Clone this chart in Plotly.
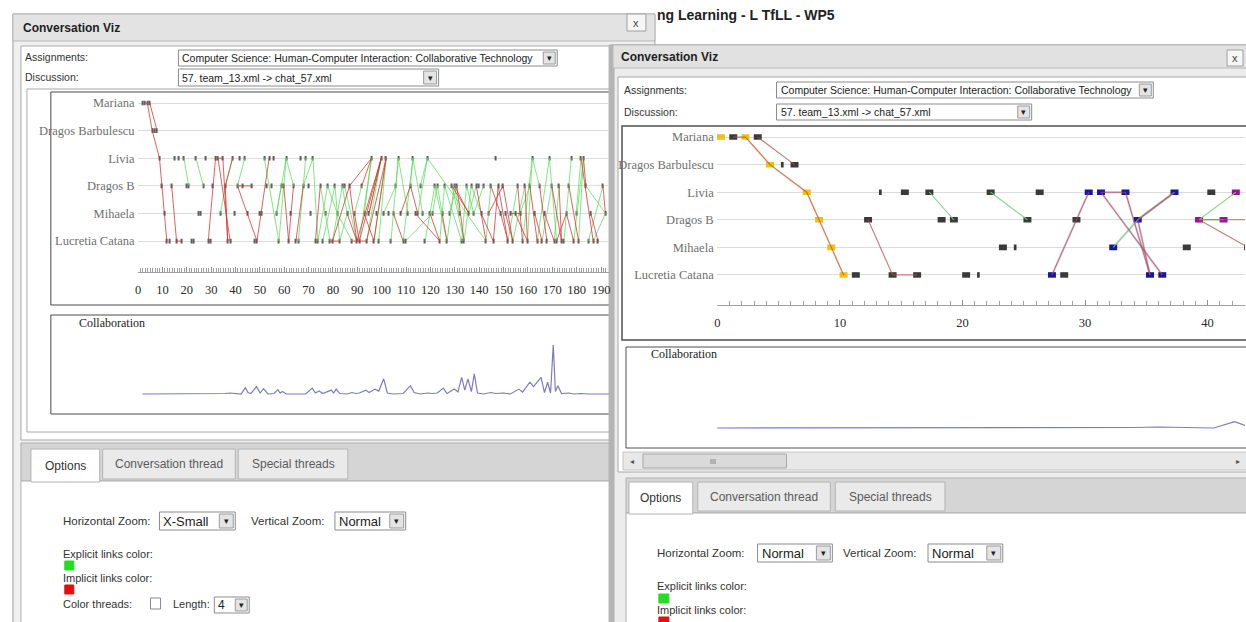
"""
Conversation Viz - the same chat (chat_57.xml) shown twice:
left window at X-Small horizontal zoom, right window at Normal zoom.
"""

import plotly.graph_objects as go

W, H = 1246, 622
SANS = "Liberation Sans, Arial, sans-serif"
SERIF = "Liberation Serif, Times New Roman, serif"

# participants, bottom row first
participants = ["Lucretia Catana", "Mihaela", "Dragos B", "Livia",
                "Dragos Barbulescu", "Mariana"]

# message indices written by each participant
msgs_lucretia = [10, 11, 14, 16, 20, 21, 27, 28, 35, 36, 46, 47, 56, 60, 63, 64,
                 71, 72, 74, 77, 78, 81, 86, 88, 89, 92, 95, 97, 102, 107, 108,
                 116, 122, 125, 131, 132, 141, 144, 150, 152, 156, 158, 162, 164,
                 166, 169, 170, 172, 173, 177, 179, 183, 185, 187]
msgs_mihaela = [9, 23, 24, 32, 38, 43, 48, 49, 55, 61, 69, 75, 80, 84, 87, 91,
                93, 96, 99, 101, 103, 106, 109, 112, 113, 115, 118, 119, 123, 126,
                130, 134, 136, 139, 142, 147, 149, 151, 153, 155, 161, 165, 174,
                178, 184, 190]
msgs_dragos_b = [8, 12, 18, 19, 25, 29, 34, 39, 41, 45, 51, 53, 57, 58, 62, 66,
                 68, 73, 76, 79, 82, 83, 85, 90, 104, 110, 114, 120, 121, 124, 127,
                 128, 129, 133, 135, 137, 138, 140, 143, 146, 148, 154, 157, 159,
                 163, 168, 171, 175, 182, 189, 192]
msgs_livia = [7, 13, 15, 17, 22, 26, 30, 31, 33, 37, 40, 42, 50, 52, 54, 59, 65,
              67, 70, 94, 98, 100, 105, 111, 117, 145, 160, 167, 176, 180, 181]
msgs_barbulescu = [4, 5, 6]
msgs_mariana = [0, 1, 2, 3]

# very short messages (drawn as thin ticks at normal zoom)
short_msgs = [5, 13, 21, 24]

# links between messages (message index pairs)
explicit_links = [(17, 19), (22, 25), (32, 34), (34, 37), (39, 41), (39, 42),
                  (50, 56), (59, 56), (59, 62), (55, 57), (55, 59), (70, 72),
                  (72, 76), (73, 77), (76, 80), (79, 81), (82, 84), (83, 88),
                  (80, 86), (66, 70), (64, 67), (74, 79), (78, 82), (81, 84),
                  (87, 90), (94, 89), (94, 91), (98, 92), (98, 93), (100, 95),
                  (97, 100), (99, 104), (105, 102), (105, 104), (105, 109),
                  (107, 111), (111, 110), (111, 115), (113, 117), (117, 114),
                  (117, 141), (108, 119), (116, 120), (119, 121), (120, 125),
                  (121, 123), (122, 124), (124, 131), (125, 128), (126, 129),
                  (127, 132), (128, 130), (131, 133), (132, 135), (133, 136),
                  (134, 137), (135, 139), (136, 140), (141, 143), (150, 154),
                  (152, 157), (155, 159), (160, 156), (160, 158), (160, 163),
                  (162, 167), (164, 168), (167, 170), (169, 171), (177, 181),
                  (178, 180), (179, 181), (176, 173), (182, 190), (183, 189),
                  (185, 190)]
implicit_links = [(1, 2), (2, 4), (4, 7), (7, 8), (8, 9), (9, 10), (3, 6),
                  (12, 14), (14, 16), (27, 30), (31, 33), (31, 36), (33, 35),
                  (34, 35), (34, 37), (39, 41), (41, 45), (39, 47), (52, 47),
                  (58, 60), (60, 62), (63, 66), (71, 73), (77, 81), (78, 85),
                  (84, 88), (85, 88), (85, 94), (86, 92), (87, 89), (88, 98),
                  (89, 98), (90, 94), (91, 95), (92, 100), (93, 98), (95, 100),
                  (103, 107), (106, 110), (110, 113), (112, 122), (118, 122),
                  (123, 125), (127, 134), (128, 134), (129, 132), (137, 141),
                  (139, 144), (142, 148), (143, 147), (144, 146), (146, 150),
                  (147, 150), (148, 152), (149, 152), (151, 155), (153, 158),
                  (154, 156), (157, 158), (159, 162), (161, 164), (163, 166),
                  (165, 169), (168, 172), (170, 174), (171, 172), (174, 177),
                  (175, 179), (180, 185), (181, 182), (184, 187), (189, 190)]

# highlighted threads in the right window
thread_yellow = [0, 2, 4, 7, 8, 9, 10]
thread_blue = [27, 30, 31, 32, 33, 34, 35, 36, 37]
thread_purple = [39, 41, 42]

# collaboration curve: (message index, value)
collab_points = [(0, 0), (3, 0), (4, 0.15), (5, 0.05), (8, 0.1), (12, 0), (29, 0),
                 (30.5, 0.15), (32, 0), (34, 0.1), (36, 0.2), (38, 0.05), (40.5, 0),
                 (42.2, 1.3), (43.3, 0.3), (44.5, 0.1), (46.8, 1.5), (48.3, 0.2),
                 (49.7, 1.1), (51.5, 0), (54, 0.1), (55.6, 0.9), (56.5, 0.2),
                 (57.5, 0.5), (59, 0), (67, 0), (69.7, 1.2), (71, 0.2), (72.5, 0.6),
                 (74, 0.1), (75.5, 0.4), (77.5, 0.8), (78.5, 0.2), (79.5, 1.0),
                 (81, 0.1), (84, 0), (86, 0.3), (87.5, 0.1), (89, 0.2), (91.7, 0.8),
                 (93, 0.3), (95.5, 1.0), (97, 0.6), (99, 3.1), (100.5, 0.2), (103, 0),
                 (107, 0.1), (110, 1.7), (111.5, 0.3), (114, 0), (117, 0.2),
                 (119, 0.1), (121, 0.2), (123.5, 1.2), (125, 0.1), (128, 1.0),
                 (129.5, 0.4), (131, 3.4), (132.3, 0.8), (133.6, 3.1), (135, 0.5),
                 (136.2, 4.1), (137.5, 0.2), (140, 0), (143, 0.3), (145, 0.1),
                 (148, 0.2), (151, 0), (154.5, 1.0), (156, 0.4), (159, 2.4),
                 (160.5, 1.5), (163.6, 3.4), (165, 0.3), (166.3, 2.4), (167.5, 0.2),
                 (168.6, 10), (169.5, 0.5), (170.5, 1.7), (172, 0.1), (175, 0.2),
                 (177, 0), (180, 0.1), (183, 0), (193, 0)]

assignment = "Computer Science: Human-Computer Interaction: Collaborative Technology"
discussion = "57. team_13.xml -> chat_57.xml"

row_of = {}
for r, msgs in enumerate([msgs_lucretia, msgs_mihaela, msgs_dragos_b, msgs_livia,
                          msgs_barbulescu, msgs_mariana]):
    for m in msgs:
        row_of[m] = r
times = sorted(row_of)


def link_trace(links, color, width, xa, ya, shift=0.0):
    xs, ys = [], []
    for a, b in links:
        xs += [a + shift, b + shift, None]
        ys += [row_of[a], row_of[b], None]
    return go.Scatter(x=xs, y=ys, mode="lines", line=dict(color=color, width=width),
                      xaxis=xa, yaxis=ya, hoverinfo="skip", showlegend=False)


def mark_trace(lengths, height, colors, xa, ya, shift=0.0):
    return go.Bar(orientation="h", y=[row_of[t] for t in times], x=lengths,
                  base=[t + shift - l / 2 for t, l in zip(times, lengths)],
                  width=height, marker=dict(color=colors, line=dict(width=0)),
                  xaxis=xa, yaxis=ya, hoverinfo="skip", showlegend=False)


def thread_color(t):
    if t in thread_yellow:
        return "#f2c010"
    if t in thread_blue:
        return "#16169e"
    if t in thread_purple:
        return "#9a109a"
    return "#3a3a3a"


fig = go.Figure()

# left window: X-Small zoom
LS = 1.8
fig.add_trace(link_trace(explicit_links, "rgba(80,220,80,0.7)", 1.0, "x", "y", LS))
fig.add_trace(link_trace(implicit_links, "rgba(215,45,45,0.75)", 1.0, "x", "y", LS))
fig.add_trace(mark_trace([0.45] * len(times), 0.17, "#5e5e5e", "x", "y", LS))

# right window: Normal zoom, thread colour faintly underneath the links
RS = 0.3
for members, col in [(thread_yellow, "rgba(242,192,16,0.22)"),
                     (thread_blue, "rgba(22,22,158,0.15)")]:
    tl = [(a, b) for a, b in explicit_links + implicit_links
          if a in members and b in members]
    fig.add_trace(link_trace(tl, col, 2.4, "x2", "y2", RS))
fig.add_trace(link_trace(explicit_links, "rgba(120,210,120,0.85)", 1.1, "x2", "y2", RS))
fig.add_trace(link_trace(implicit_links, "rgba(185,75,75,0.75)", 1.1, "x2", "y2", RS))
fig.add_trace(mark_trace([0.22 if t in short_msgs else 0.65 for t in times], 0.2,
                         [thread_color(t) for t in times], "x2", "y2", RS))

# collaboration curves
cx = [p[0] for p in collab_points]
cy = [p[1] for p in collab_points]
for xa, ya in [("x3", "y3"), ("x4", "y4")]:
    fig.add_trace(go.Scatter(x=cx, y=cy, mode="lines", xaxis=xa, yaxis=ya,
                             line=dict(color="#7b7bc4", width=1.2),
                             hoverinfo="skip", showlegend=False))

# ---- window chrome -------------------------------------------------------
shapes, notes = [], []


def rect(x0, y0, x1, y1, fill, line="#a0a0a0", lw=1):
    shapes.append(dict(type="rect", xref="paper", yref="paper", layer="below",
                       x0=x0 / W, x1=x1 / W, y0=1 - y1 / H, y1=1 - y0 / H,
                       fillcolor=fill, line=dict(color=line, width=lw)))


def text(x, y, s, size=11, color="#333", family=SANS, anchor="left"):
    notes.append(dict(xref="paper", yref="paper", x=x / W, y=1 - y / H, text=s,
                      showarrow=False, xanchor=anchor, yanchor="middle",
                      font=dict(size=size, color=color, family=family)))


def dropdown(x0, y0, x1, y1, s, size=10):
    bw = y1 - y0
    rect(x0, y0, x1, y1, "white", "#8c8c8c")
    rect(x1 - bw + 2, y0 + 2, x1 - 2, y1 - 2, "#e4e4e4", "#9a9a9a")
    text(x0 + 2, (y0 + y1) / 2, s, size, "#222")
    text(x1 - bw / 2, (y0 + y1) / 2, "▾", 9, "#222", anchor="center")


def tab(x0, x1, y0, y1, s, active=False):
    rect(x0, y0, x1, y1, "white" if active else "#eaeaea", "#b4b4b4")
    text((x0 + x1) / 2, (y0 + y1) / 2, s, 12, "#333" if active else "#5a5a5a",
         anchor="center")


# page heading behind the windows
text(654, 15, "<b>ng Learning - L TfLL - WP5</b>", 14, "#222")

# left window
rect(10, 14, 654, 640, "#f0f0f0", "#9c9c9c")
rect(10, 14, 654, 41, "#e3e3e3", "#b8b8b8")
text(18, 27.5, "<b>Conversation Viz</b>", 12, "#1e1e1e")
rect(626, 14, 645, 31, "#f6f6f6", "#a0a0a0")
text(635.5, 22.5, "x", 11, "#444", anchor="center")
rect(18, 46, 612, 440, "white", "#a8a8a8")
text(20, 57, "Assignments:", 10.5)
dropdown(176, 50, 556, 66, assignment, 10.5)
text(20, 77, "Discussion:", 10.5)
dropdown(176, 69, 437, 86, discussion, 10.5)
rect(24, 89, 612, 432, "white", "#a8a8a8")
rect(48, 92, 612, 305, "white", "#4a4a4a")
rect(48, 315, 612, 414, "white", "#4a4a4a")
text(74, 323, "Collaboration", 12, "#222", SERIF)
rect(18, 443, 612, 481, "#d5d5d5", "#b0b0b0")
rect(18, 481, 612, 640, "white", "#b0b0b0")
tab(28, 97, 449, 482, "Options", True)
tab(100, 233, 449, 479, "Conversation thread")
tab(236, 346, 449, 479, "Special threads")
text(58, 521, "Horizontal Zoom:", 11.5)
dropdown(157, 512, 233, 530, "X-Small", 13)
text(247, 521, "Vertical Zoom:", 11.5)
dropdown(333, 512, 404, 530, "Normal", 13)
text(58, 554, "Explicit links color:", 11)
rect(62, 561, 71, 570, "#22dd22", "#22dd22")
text(58, 578, "Implicit links color:", 11)
rect(62, 585, 71, 594, "#e01010", "#e01010")
text(58, 604, "Color threads:", 11)
rect(148, 598, 158, 609, "white", "#8a8a8a")
text(169, 604, "Length:", 11)
dropdown(212, 597, 247, 613, "4", 12)

# right window
rect(610, 45, 1250, 640, "#ececec", "#8c8c8c")
rect(608, 45, 613, 640, "#b4b4b4", "#b4b4b4")
rect(612, 45, 1250, 68, "#e1e1e1", "#b8b8b8")
text(618, 57, "<b>Conversation Viz</b>", 12, "#1e1e1e")
rect(1228, 50, 1244, 66, "#f6f6f6", "#a0a0a0")
text(1236, 58, "x", 11, "#444", anchor="center")
rect(617, 77, 1250, 472, "white", "#a8a8a8")
text(621, 90, "Assignments:", 10.5)
dropdown(776, 82, 1154, 98, assignment, 10.5)
text(621, 112, "Discussion:", 10.5)
dropdown(776, 104, 1032, 120, discussion, 10.5)
rect(621, 126, 1250, 340, "white", "#505050", 1.5)
rect(625, 347, 1250, 448, "white", "#505050")
text(648, 354, "Collaboration", 12, "#222", SERIF)
rect(622, 452, 1250, 470, "#e8e8e8", "#c4c4c4")
rect(642, 454, 786, 468, "#dadada", "#a8a8a8")
text(712, 461, "III", 7, "#666", anchor="center")
text(631, 461, "◂", 8, "#555", anchor="center")
text(1239, 461, "▸", 8, "#555", anchor="center")
rect(625, 478, 1250, 513, "#d5d5d5", "#b0b0b0")
rect(625, 513, 1250, 640, "white", "#b0b0b0")
tab(628, 692, 482, 514, "Options", True)
tab(697, 830, 482, 511, "Conversation thread")
tab(835, 945, 482, 511, "Special threads")
text(654, 553, "Horizontal Zoom:", 11.5)
dropdown(757, 544, 832, 562, "Normal", 13)
text(841, 553, "Vertical Zoom:", 11.5)
dropdown(928, 544, 1003, 562, "Normal", 13)
text(654, 586, "Explicit links color:", 11)
rect(658, 594, 668, 603, "#22dd22", "#22dd22")
text(654, 610, "Implicit links color:", 11)
rect(658, 617, 668, 626, "#e01010", "#e01010")


def conv_axes(x0, x1, xr, y0, y1, yr):
    xa = dict(domain=[x0 / W, x1 / W], range=xr, showgrid=False, zeroline=False,
              showline=True, linecolor="#a0a0a0", ticks="inside", ticklen=5,
              tickcolor="#909090", dtick=10, tick0=0, ticklabelstandoff=6,
              tickfont=dict(family=SERIF, size=12.5, color="#2a2a2a"),
              minor=dict(dtick=1, tick0=0, ticks="inside", ticklen=4,
                         tickcolor="#a0a0a0"), fixedrange=True)
    ya = dict(domain=[1 - y1 / H, 1 - y0 / H], range=yr, tickvals=list(range(6)),
              ticktext=participants, showgrid=True, gridcolor="#dcdcdc",
              zeroline=False, showline=False, ticks="", ticklabelstandoff=2,
              tickfont=dict(family=SERIF, size=12.5, color="#707070"),
              fixedrange=True)
    return xa, ya


def hidden(x0, x1, xr, y0, y1, yr):
    return (dict(domain=[x0 / W, x1 / W], range=xr, visible=False, fixedrange=True),
            dict(domain=[1 - y1 / H, 1 - y0 / H], range=yr, visible=False,
                 fixedrange=True))


left_xr = [-0.2, 193.3]
right_xr = [-0.05, 43.05]
x1a, y1a = conv_axes(135, 608, left_xr, 95, 272, [-1.12, 5.29])
x2a, y2a = conv_axes(716, W, right_xr, 128, 305, [-1.09, 5.33])
x3a, y3a = hidden(135, 608, [-0.2 - LS, 193.3 - LS], 330, 404, [-2.04, 13.06])
x4a, y4a = hidden(716, W, right_xr, 364, 438, [-2.04, 13.06])
x1a["anchor"], y1a["anchor"] = "y", "x"
x2a["anchor"], y2a["anchor"] = "y2", "x2"
x3a["anchor"], y3a["anchor"] = "y3", "x3"
x4a["anchor"], y4a["anchor"] = "y4", "x4"

fig.update_layout(
    width=W, height=H, autosize=False,
    margin=dict(l=0, r=0, t=0, b=0),
    paper_bgcolor="white", plot_bgcolor="rgba(0,0,0,0)",
    barmode="overlay", showlegend=False,
    xaxis=x1a, yaxis=y1a, xaxis2=x2a, yaxis2=y2a,
    xaxis3=x3a, yaxis3=y3a, xaxis4=x4a, yaxis4=y4a,
    shapes=shapes, annotations=notes,
)

fig.write_html("out.html", config={"displayModeBar": False},
               post_script="document.body.style.margin='0';"
                           "document.body.style.overflow='hidden';")
